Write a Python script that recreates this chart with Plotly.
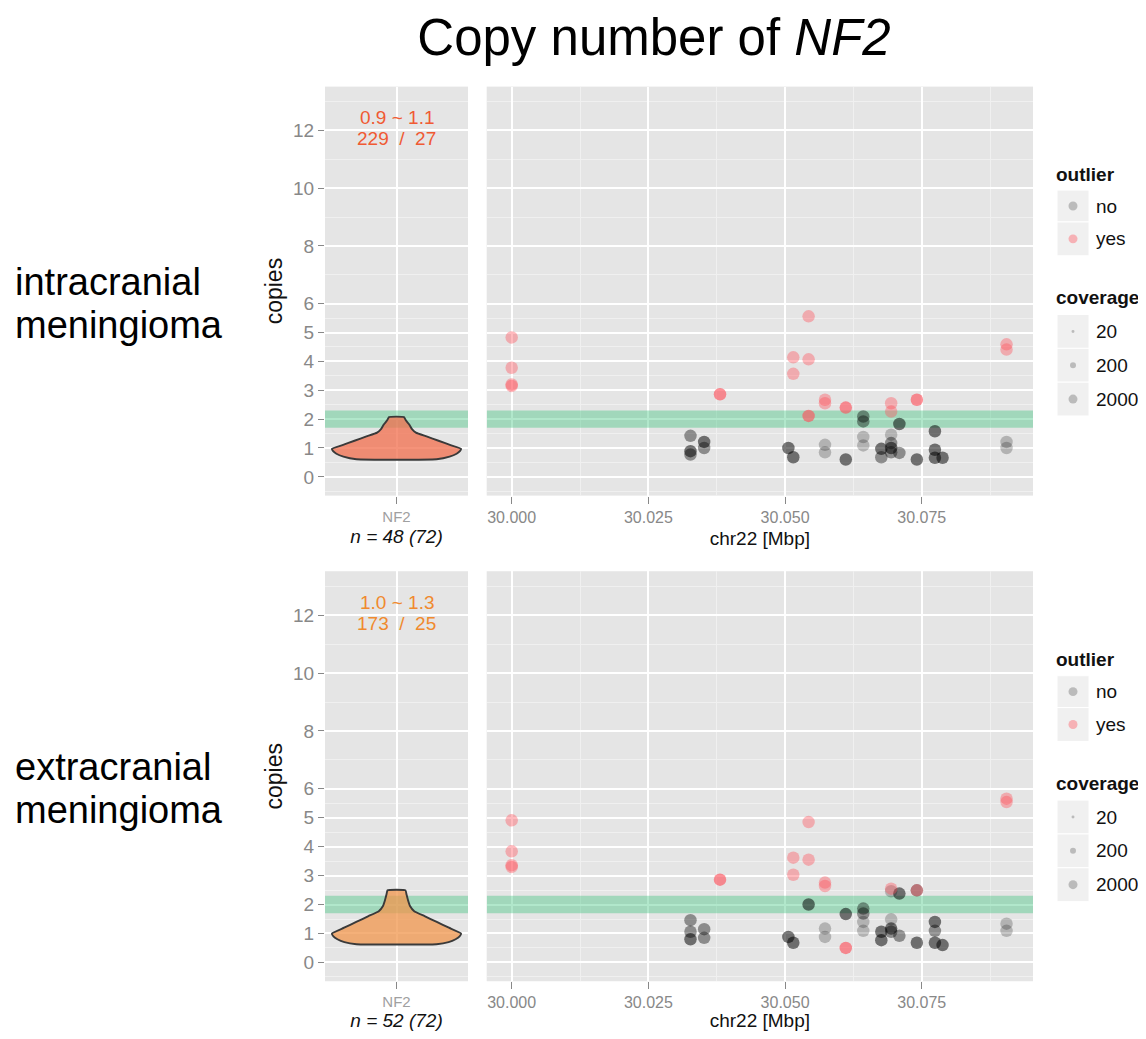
import plotly.graph_objects as go
import numpy as np

# page body has an 8px margin; the figure is sized to fit the window
OFF = 8
W, H = 1146 - 2 * OFF, 1039 - 2 * OFF
FONT = "Liberation Sans, Arial, sans-serif"

# ---------------- data ----------------
title_main = "Copy number of <i>NF2</i>"
panel_labels = [["intracranial", "meningioma"], ["extracranial", "meningioma"]]
gene = "NF2"
n_labels = ["n = 48 (72)", "n = 52 (72)"]
range_texts = ["0.9 ~ 1.1", "1.0 ~ 1.3"]
count_texts = ["229  /  27", "173  /  25"]
x_title = "chr22 [Mbp]"
y_title = "copies"
y_ticks = [0, 1, 2, 3, 4, 5, 6, 8, 10, 12]
y_minor = [-0.5, 0.5, 1.5, 2.5, 3.5, 4.5, 5.5, 7, 9, 11, 13]
x_ticks = [30.000, 30.025, 30.050, 30.075]
x_ticklabels = ["30.000", "30.025", "30.050", "30.075"]
x_minor = [30.0125, 30.0375, 30.0625, 30.0875]
normal_band = [1.7, 2.3]
outlier_levels = ["no", "yes"]
coverage_levels = ["20", "200", "2000"]

# violin profiles (copies level, relative density)
violin_top_y = [0.61, 0.70, 0.80, 0.90, 0.97, 1.10, 1.25, 1.40, 1.53, 1.65, 1.81, 1.95, 2.07]
violin_top_d = [40, 53, 60, 63.5, 64.5, 54, 42, 30, 19.4, 15.5, 12.8, 9.5, 7.5]
violin_bot_y = [0.63, 0.70, 0.80, 0.90, 1.00, 1.20, 1.40, 1.60, 1.77, 1.95, 2.15, 2.35, 2.49]
violin_bot_d = [40, 52, 59, 63, 64.5, 52.3, 40.2, 28, 17.7, 13.5, 11.5, 10, 9]

# top panel points (position Mbp, copies, number of overlapping samples)
top_no_pos = [30.0327, 30.0327, 30.0327, 30.0352, 30.0352, 30.0506, 30.0515, 30.0573, 30.0573,
              30.0611, 30.0643, 30.0643, 30.0643, 30.0643, 30.0676, 30.0676, 30.0694, 30.0694,
              30.0694, 30.0694, 30.0709, 30.0709, 30.0741, 30.0774, 30.0774, 30.0774, 30.0788,
              30.0905, 30.0905]
top_no_cn = [1.42, 0.89, 0.77, 1.21, 1.00, 1.00, 0.68, 1.11, 0.85,
             0.60, 2.09, 1.92, 1.38, 1.09, 0.97, 0.68, 1.46, 1.17,
             1.00, 0.85, 1.83, 0.83, 0.60, 1.58, 0.94, 0.66, 0.66,
             1.21, 1.00]
top_no_n = [2, 3, 2, 3, 2, 3, 3, 1, 1,
            3, 2, 2, 1, 1, 3, 2, 1, 2,
            3, 2, 3, 2, 3, 3, 3, 3, 3,
            1, 1]
top_yes_pos = [30.0000, 30.0000, 30.0000, 30.0000, 30.0381, 30.0515, 30.0515, 30.0543, 30.0543,
               30.0543, 30.0573, 30.0573, 30.0611, 30.0694, 30.0694, 30.0741, 30.0905, 30.0905]
top_yes_cn = [4.83, 3.78, 3.15, 3.20, 2.86, 4.14, 3.57, 5.56, 4.07,
              2.11, 2.67, 2.55, 2.40, 2.55, 2.26, 2.67, 4.59, 4.41]
top_yes_n = [1, 1, 1, 1, 2, 1, 1, 1, 1,
             2, 1, 1, 2, 1, 1, 2, 1, 1]

# bottom panel points
bot_no_pos = [30.0327, 30.0327, 30.0327, 30.0352, 30.0352, 30.0506, 30.0515, 30.0543, 30.0573,
              30.0573, 30.0611, 30.0643, 30.0643, 30.0643, 30.0643, 30.0676, 30.0676, 30.0694,
              30.0694, 30.0694, 30.0694, 30.0709, 30.0709, 30.0741, 30.0741, 30.0774, 30.0774,
              30.0774, 30.0788, 30.0905, 30.0905]
bot_no_cn = [1.46, 1.06, 0.80, 1.15, 0.85, 0.88, 0.68, 2.00, 1.17,
             0.88, 1.67, 1.86, 1.69, 1.40, 1.09, 1.06, 0.77, 2.46,
             1.49, 1.17, 1.06, 2.38, 0.92, 2.49, 0.68, 1.40, 1.09,
             0.68, 0.60, 1.34, 1.09]
bot_no_n = [2, 2, 3, 2, 2, 3, 3, 3, 1,
            1, 3, 2, 2, 1, 1, 3, 3, 1,
            1, 3, 2, 3, 2, 2, 3, 3, 2,
            3, 3, 1, 1]
bot_yes_pos = [30.0000, 30.0000, 30.0000, 30.0000, 30.0381, 30.0515, 30.0515, 30.0543, 30.0543,
               30.0573, 30.0573, 30.0611, 30.0694, 30.0741, 30.0905, 30.0905]
bot_yes_cn = [4.91, 3.84, 3.30, 3.36, 2.86, 3.62, 3.03, 4.85, 3.55,
              2.76, 2.64, 0.50, 2.55, 2.49, 5.66, 5.54]
bot_yes_n = [1, 1, 1, 1, 2, 1, 1, 1, 1,
             1, 1, 2, 1, 1, 1, 1]

# ---------------- styling ----------------
BG = "#E5E5E5"
GRID = "#FFFFFF"
MINOR = "#F0F0F0"
TICK_GRAY = "#888888"
violin_fills = ["rgba(241,110,76,0.75)", "rgba(240,150,76,0.75)"]
text_colors = ["#F05A33", "#F08A2E"]
BAND = "rgba(60,195,125,0.40)"
NO_RGB = (0, 0, 0)
YES_RGB = (254, 82, 92)
A_NO, A_YES = 0.22, 0.40
PT_SIZE = 12.5


def px2x(px):
    return (px - OFF) / W


def px2y(py):
    return 1 - (py - OFF) / H


fig = go.Figure()

# panel geometry (pixels in the screenshot)
panels = [dict(top=87, bottom=498), dict(top=574, bottom=986)]
LX0, LX1 = 325, 468
RX0, RX1 = 486.7, 1033
Y_RANGE = [-0.65, 13.52]
X_RANGE = [29.99543, 30.09534]
L_RANGE = [-0.6, 0.6]
MAXHALF = 0.542  # violin half-width in category units

violins = [(violin_top_y, violin_top_d), (violin_bot_y, violin_bot_d)]
points = [
    (top_no_pos, top_no_cn, top_no_n, top_yes_pos, top_yes_cn, top_yes_n),
    (bot_no_pos, bot_no_cn, bot_no_n, bot_yes_pos, bot_yes_cn, bot_yes_n),
]

axis_common = dict(showline=False, zeroline=False, gridcolor=GRID, gridwidth=1.6,
                   tickfont=dict(family=FONT, color=TICK_GRAY))

for i, p in enumerate(panels):
    xl = "x" if i == 0 else f"x{2 * i + 1}"
    yl = "y" if i == 0 else f"y{2 * i + 1}"
    xr = f"x{2 * i + 2}"
    yr = f"y{2 * i + 2}"
    ydom = [px2y(p["bottom"]), px2y(p["top"])]

    fig.layout[("xaxis" if i == 0 else f"xaxis{2 * i + 1}")] = dict(
        axis_common, domain=[px2x(LX0), px2x(LX1)], range=L_RANGE, anchor=yl,
        tickvals=[0], ticktext=[gene], ticks="outside", ticklen=7, tickcolor=TICK_GRAY,
        tickfont=dict(family=FONT, size=15, color="#A0A0A0"), showgrid=True,
        title=dict(text=f"<i>{n_labels[i]}</i>", standoff=6,
                   font=dict(family=FONT, size=19, color="#111111")),
        fixedrange=True)
    fig.layout[("yaxis" if i == 0 else f"yaxis{2 * i + 1}")] = dict(
        axis_common, domain=ydom, range=Y_RANGE, anchor=xl,
        tickvals=y_ticks, ticks="outside", ticklen=6, tickcolor=TICK_GRAY,
        tickfont=dict(family=FONT, size=19, color=TICK_GRAY),
        minor=dict(tickvals=y_minor, showgrid=True, gridcolor=MINOR, gridwidth=0.8, ticks=""),
        title=dict(text=y_title, standoff=4, font=dict(family=FONT, size=23, color="#111111")),
        fixedrange=True)
    fig.layout[f"xaxis{2 * i + 2}"] = dict(
        axis_common, domain=[px2x(RX0), px2x(RX1)], range=X_RANGE, anchor=yr,
        tickvals=x_ticks, ticktext=x_ticklabels, ticks="outside", ticklen=7, tickcolor=TICK_GRAY,
        tickfont=dict(family=FONT, size=16, color=TICK_GRAY),
        minor=dict(tickvals=x_minor, showgrid=True, gridcolor=MINOR, gridwidth=0.8, ticks=""),
        title=dict(text=x_title, standoff=6, font=dict(family=FONT, size=19, color="#111111")),
        fixedrange=True)
    fig.layout[f"yaxis{2 * i + 2}"] = dict(
        axis_common, domain=ydom, range=Y_RANGE, anchor=xr,
        tickvals=y_ticks, showticklabels=False, ticks="",
        minor=dict(tickvals=y_minor, showgrid=True, gridcolor=MINOR, gridwidth=0.8, ticks=""),
        fixedrange=True)

    # normal-copy band across both panels (drawn above the grid, like ggplot)
    for xa, ya, rng in ((xl, yl, L_RANGE), (xr, yr, X_RANGE)):
        fig.add_trace(go.Scatter(
            x=[rng[0], rng[1], rng[1], rng[0], rng[0]],
            y=[normal_band[0], normal_band[0], normal_band[1], normal_band[1], normal_band[0]],
            xaxis=xa, yaxis=ya, mode="lines", fill="toself", fillcolor=BAND,
            line=dict(width=0), hoverinfo="skip", showlegend=False))

    # violin
    vy, vd = violins[i]
    vy = np.array(vy, dtype=float)
    half = np.array(vd, dtype=float) / max(vd) * MAXHALF
    xs = np.concatenate([-half, half[::-1], [-half[0]]])
    ys = np.concatenate([vy, vy[::-1], [vy[0]]])
    fig.add_trace(go.Scatter(x=xs, y=ys, xaxis=xl, yaxis=yl, mode="lines", fill="toself",
                             fillcolor=violin_fills[i],
                             line=dict(color="#3A3A3A", width=1.9, shape="spline", smoothing=0.4),
                             hoverinfo="skip", showlegend=False))

    for txt, yy in ((range_texts[i], 12.45), (count_texts[i].replace(" ", "\u00a0"), 11.73)):
        fig.add_annotation(x=0, y=yy, xref=xl, yref=yl, text=txt, showarrow=False,
                           font=dict(family=FONT, size=19, color=text_colors[i]),
                           xanchor="center", yanchor="middle")

    # scatter points
    npos, ncn, nn, ypos, ycn, yn = points[i]
    op_no = [1 - (1 - A_NO) ** k for k in nn]
    op_yes = [1 - (1 - A_YES) ** k for k in yn]
    fig.add_trace(go.Scatter(x=npos, y=ncn, xaxis=xr, yaxis=yr, mode="markers",
                             marker=dict(size=PT_SIZE, color=f"rgb{NO_RGB}", opacity=op_no,
                                         line=dict(width=0)),
                             name="no", showlegend=False))
    fig.add_trace(go.Scatter(x=ypos, y=ycn, xaxis=xr, yaxis=yr, mode="markers",
                             marker=dict(size=PT_SIZE, color=f"rgb{YES_RGB}", opacity=op_yes,
                                         line=dict(width=0)),
                             name="yes", showlegend=False))

    # row labels at left
    base = (p["top"] + p["bottom"]) / 2
    for k, line in enumerate(panel_labels[i]):
        fig.add_annotation(x=px2x(13), y=px2y(base - 9 + 43 * k), xref="paper", yref="paper",
                           text=line, showarrow=False, xanchor="left", yanchor="middle",
                           font=dict(family=FONT, size=38, color="#000000"))

    # ggplot-style legends drawn by hand
    off = 0 if i == 0 else 488
    KX0, KX1 = 1057, 1089
    kcx = (KX0 + KX1) / 2

    def circle(cx, cy, r, col):
        fig.add_shape(type="circle", xref="paper", yref="paper",
                      x0=px2x(cx - r), x1=px2x(cx + r), y0=px2y(cy + r), y1=px2y(cy - r),
                      fillcolor=col, line=dict(width=0))

    def box(b0, b1):
        fig.add_shape(type="rect", xref="paper", yref="paper", x0=px2x(KX0), x1=px2x(KX1),
                      y0=px2y(b1), y1=px2y(b0), fillcolor="#F0F0F0",
                      line=dict(color="white", width=1))

    def label(txt, cy, x=1094, bold=False):
        fig.add_annotation(x=px2x(x), y=px2y(cy), xref="paper", yref="paper",
                           text=f"<b>{txt}</b>" if bold else txt, showarrow=False,
                           xanchor="left", yanchor="middle",
                           font=dict(family=FONT, size=19, color="#111111"))

    label("outlier", 175 + off, x=1054, bold=True)
    out_boxes = [(191, 223), (223, 257)]
    out_cols = [f"rgba(0,0,0,{A_NO})", f"rgba{YES_RGB[:3] + (A_YES,)}"]
    for (b0, b1), lab, col in zip(out_boxes, outlier_levels, out_cols):
        box(b0 + off, b1 + off)
        cy = (b0 + b1) / 2 + off
        circle(kcx, cy, 4.5, col)
        label(lab, cy)
    label("coverage", 299 + off, x=1054, bold=True)
    cov_boxes = [(316, 350), (350, 384), (384, 418)]
    cov_r = [1.5, 3, 4.5]
    for (b0, b1), lab, r in zip(cov_boxes, coverage_levels, cov_r):
        box(b0 + off, b1 + off)
        cy = (b0 + b1) / 2 + off
        circle(kcx, cy, r, f"rgba(0,0,0,{A_NO})")
        label(lab, cy)

fig.update_layout(
    width=W, height=H,
    margin=dict(l=0, r=0, t=0, b=0),
    paper_bgcolor="white",
    plot_bgcolor=BG,
    showlegend=False,
    font=dict(family=FONT),
    title=dict(text=title_main, x=px2x(654), y=px2y(37), xref="paper", yref="paper",
               xanchor="center", yanchor="middle",
               font=dict(family=FONT, size=51, color="#000000")),
)

fig.write_html("out.html")
